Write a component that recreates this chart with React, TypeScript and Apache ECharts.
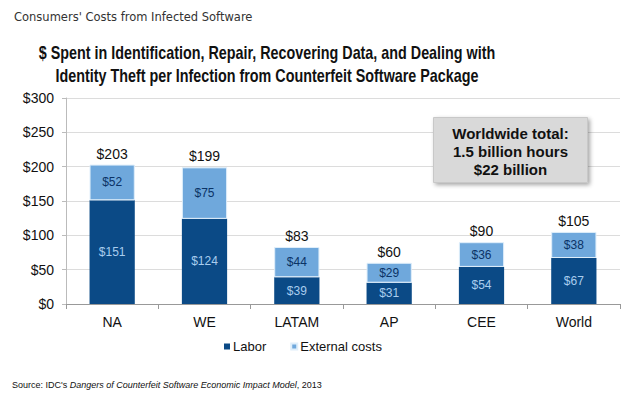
import React, { useEffect, useRef } from "react";
import * as echarts from "echarts";

const categories = ["NA", "WE", "LATAM", "AP", "CEE", "World"];
const labor = [151, 124, 39, 31, 54, 67];
const external = [52, 75, 44, 29, 36, 38];
const totals = [203, 199, 83, 60, 90, 105];
const yTicks = [0, 50, 100, 150, 200, 250, 300];

export default function App() {
  const ref = useRef<HTMLDivElement>(null);
  useEffect(() => {
    const chart = echarts.init(ref.current!, null, { renderer: "svg" });
    const font = "Liberation Sans, Arial, sans-serif";
    chart.setOption({
      animation: false,
      backgroundColor: "#ffffff",
      textStyle: { fontFamily: font },
      title: [
        {
          text: "Consumers' Costs from Infected Software",
          left: 9,
          top: 6,
          textStyle: { fontFamily: "DejaVu Sans", fontSize: 11.5, fontWeight: "normal", color: "#333333" },
        },
        {
          text: "Source: IDC's {i|Dangers of Counterfeit Software Economic Impact Model}, 2013",
          left: 7,
          top: 375,
          textStyle: {
            fontFamily: font,
            fontSize: 9,
            fontWeight: "normal",
            color: "#111111",
            rich: { i: { fontFamily: font, fontSize: 9, fontStyle: "italic", color: "#111111" } },
          },
        },
      ],
      legend: {
        data: ["Labor", "External costs"],
        top: 335,
        left: 219,
        itemWidth: 6,
        itemHeight: 6,
        itemGap: 24,
        icon: "rect",
        textStyle: { fontFamily: font, fontSize: 13, color: "#111111", padding: [0, 0, 0, -2] },
      },
      grid: { left: 66, right: 13, top: 98, bottom: 89 },
      xAxis: {
        type: "category",
        data: categories,
        axisLine: { lineStyle: { color: "#999999" } },
        axisTick: { show: true, alignWithLabel: false, lineStyle: { color: "#999999" } },
        axisLabel: { fontFamily: font, fontSize: 14, color: "#111111", margin: 11 },
      },
      yAxis: {
        type: "value",
        min: 0,
        max: 300,
        interval: 50,
        axisLine: { show: true, lineStyle: { color: "#bbbbbb" } },
        axisTick: { show: true, length: 4, lineStyle: { color: "#bbbbbb" } },
        axisLabel: {
          fontFamily: font,
          fontSize: 14,
          color: "#111111",
          margin: 12,
          formatter: (v: number) => (yTicks.includes(v) ? "$" + v : ""),
        },
        splitLine: { lineStyle: { color: "#dcdcdc" } },
      },
      series: [
        {
          name: "Labor",
          type: "bar",
          stack: "s",
          barWidth: "49%",
          data: labor,
          itemStyle: { color: "#0b4a86" },
          label: {
            show: true,
            position: "inside",
            formatter: (p: any) => "$" + p.value,
            fontFamily: font,
            fontSize: 12,
            color: "#a9cdee",
          },
        },
        {
          name: "External costs",
          type: "bar",
          stack: "s",
          data: external,
          itemStyle: { color: "#6fa8dc", borderColor: "#dfeefa", borderWidth: 1 },
          label: {
            show: true,
            position: "inside",
            formatter: (p: any) => "$" + p.value,
            fontFamily: font,
            fontSize: 12,
            color: "#0b3366",
          },
        },
        {
          name: "Total",
          type: "bar",
          stack: "s",
          data: totals.map(() => 0),
          itemStyle: { color: "transparent" },
          label: {
            show: true,
            position: "top",
            distance: 4,
            formatter: (p: any) => "$" + totals[p.dataIndex],
            fontFamily: font,
            fontSize: 14,
            color: "#111111",
          },
        },
      ],
      graphic: [
        {
          type: "text",
          x: 267,
          y: 41,
          scaleX: 0.775,
          style: {
            text: "$ Spent in Identification, Repair, Recovering Data, and Dealing with\nIdentity Theft per Infection from Counterfeit Software Package",
            fontFamily: font,
            fontSize: 18.5,
            fontWeight: "bold",
            fill: "#111111",
            align: "center",
            verticalAlign: "top",
            lineHeight: 23,
          },
        },
        {
          type: "group",
          left: 433,
          top: 117,
          z: 100,
          children: [
            {
              type: "rect",
              z: 100,
              shape: { x: 0, y: 0, width: 154, height: 65 },
              style: {
                fill: "#d9d9d9",
                stroke: "#c8c8c8",
                lineWidth: 1,
                shadowBlur: 4,
                shadowOffsetX: 2,
                shadowOffsetY: 2,
                shadowColor: "rgba(0,0,0,0.35)",
              },
            },
            {
              type: "text",
              z: 101,
              x: 77,
              y: 7,
              style: {
                text: "Worldwide total:\n1.5 billion hours\n$22 billion",
                fontFamily: font,
                fontSize: 15,
                fontWeight: "bold",
                fill: "#111111",
                align: "center",
                verticalAlign: "top",
                lineHeight: 18,
              },
            },
          ],
        },
      ],
    });
    return () => chart.dispose();
  }, []);
  return <div ref={ref} style={{ width: 633, height: 393, position: "absolute", left: 0, top: 0 }} />;
}
